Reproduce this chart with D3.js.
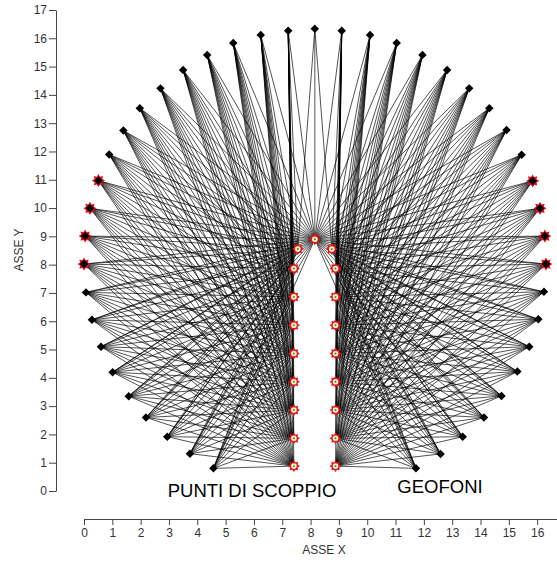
<!DOCTYPE html>
<html>
<head>
<meta charset="utf-8">
<script src="https://cdn.jsdelivr.net/npm/d3@7"></script>
<style>
  body { margin: 0; background: #fff; }
  svg { display: block; font-family: "Liberation Sans", Arial, sans-serif; }
</style>
</head>
<body>
<div id="wrapper"></div>
<script>
// geofoni sul perimetro, lato sinistro (dal basso verso l'alto)
const geofoniSinistra = [
  [4.57, 0.8], [3.74, 1.32], [2.94, 1.92], [2.19, 2.6], [1.58, 3.35],
  [1.01, 4.2], [0.6, 5.1], [0.28, 6.05], [0.07, 7.02], [0.0, 8.02],
  [0.04, 9.01], [0.21, 9.99], [0.51, 10.97], [0.89, 11.89], [1.39, 12.74],
  [1.97, 13.53], [2.7, 14.23], [3.5, 14.88], [4.35, 15.41], [5.27, 15.83],
  [6.24, 16.12], [7.21, 16.27]
];
// geofono in cima
const geofonoCima = [[8.15, 16.34]];
// geofoni lato destro (dall'alto verso il basso)
const geofoniDestra = [
  [9.1, 16.27], [10.1, 16.12], [11.04, 15.83], [11.95, 15.41], [12.82, 14.88],
  [13.6, 14.23], [14.31, 13.53], [14.92, 12.76], [15.45, 11.88], [15.84, 10.96],
  [16.1, 9.99], [16.27, 9.01], [16.31, 8.02], [16.24, 7.04], [16.04, 6.07],
  [15.72, 5.1], [15.3, 4.22], [14.74, 3.36], [14.12, 2.6], [13.37, 1.92],
  [12.59, 1.31], [11.72, 0.8]
];
// geofoni marcati anche come punti di scoppio
const scoppiPerimetro = [
  [0.0, 8.02], [0.04, 9.01], [0.21, 9.99], [0.51, 10.97],
  [15.84, 10.96], [16.1, 9.99], [16.27, 9.01], [16.31, 8.02]
];
// punti di scoppio nel cunicolo
const scoppiSinistra = [
  [7.41, 0.88], [7.41, 1.86], [7.41, 2.86], [7.41, 3.86], [7.41, 4.86],
  [7.41, 5.86], [7.41, 6.86], [7.41, 7.86], [7.55, 8.55]
];
const scoppiDestra = [
  [8.88, 0.88], [8.88, 1.86], [8.88, 2.86], [8.88, 3.86], [8.88, 4.86],
  [8.88, 5.86], [8.88, 6.86], [8.88, 7.86], [8.75, 8.55]
];
const scoppioCentro = [[8.15, 8.9]];

const xTicks = d3.range(0, 17);
const yTicks = d3.range(0, 18);

const width = 557, height = 563;

const xScale = d3.scaleLinear().domain([0, 16.7]).range([84, 557]);
const yScale = d3.scaleLinear().domain([0, 17]).range([491, 10]);

const svg = d3.select("#wrapper").append("svg")
  .attr("width", width)
  .attr("height", height);

// raggi: ogni geofono e' collegato agli scoppi del proprio lato
const raggi = [];
geofoniSinistra.forEach(g => scoppiSinistra.concat(scoppioCentro).forEach(s => raggi.push([g, s])));
geofoniDestra.forEach(g => scoppiDestra.concat(scoppioCentro).forEach(s => raggi.push([g, s])));
geofonoCima.forEach(g => [scoppiSinistra[8], scoppioCentro[0], scoppiDestra[8]].forEach(s => raggi.push([g, s])));

svg.append("g")
  .selectAll("line")
  .data(raggi)
  .join("line")
  .attr("x1", d => xScale(d[0][0]))
  .attr("y1", d => yScale(d[0][1]))
  .attr("x2", d => xScale(d[1][0]))
  .attr("y2", d => yScale(d[1][1]))
  .attr("stroke", "#000")
  .attr("stroke-opacity", 0.85)
  .attr("stroke-width", 0.8);

// forma a stella (8 punte)
function stella(rOut, rIn, n) {
  const pts = [];
  for (let i = 0; i < n * 2; i++) {
    const r = i % 2 === 0 ? rOut : rIn;
    const a = Math.PI * i / n - Math.PI / 2;
    pts.push([r * Math.cos(a), r * Math.sin(a)]);
  }
  return "M" + pts.map(p => p.join(",")).join("L") + "Z";
}

// stelle rosse sotto i geofoni del perimetro
svg.append("g")
  .selectAll("path")
  .data(scoppiPerimetro)
  .join("path")
  .attr("transform", d => `translate(${xScale(d[0])},${yScale(d[1])})`)
  .attr("d", stella(6.5, 4.2, 8))
  .attr("fill", "#e0101a");

// geofoni (rombi neri)
const geofoni = geofoniSinistra.concat(geofonoCima, geofoniDestra);
svg.append("g")
  .selectAll("rect")
  .data(geofoni)
  .join("rect")
  .attr("x", -3)
  .attr("y", -3)
  .attr("width", 6)
  .attr("height", 6)
  .attr("transform", d => `translate(${xScale(d[0])},${yScale(d[1])}) rotate(45)`)
  .attr("fill", "#000");

// punti di scoppio nel cunicolo
const scoppi = scoppiSinistra.concat(scoppiDestra, scoppioCentro);
const gScoppi = svg.append("g")
  .selectAll("g")
  .data(scoppi)
  .join("g")
  .attr("transform", d => `translate(${xScale(d[0])},${yScale(d[1])})`);
gScoppi.append("path")
  .attr("d", stella(6, 4, 8))
  .attr("fill", "#e3141c");
gScoppi.append("circle")
  .attr("r", 2.8)
  .attr("fill", "#fbf6c8");
gScoppi.append("circle")
  .attr("r", 1)
  .attr("fill", "#6b6b3a");

// assi
svg.append("g")
  .attr("transform", "translate(56,0)")
  .call(d3.axisLeft(yScale).tickValues(yTicks).tickSize(7).tickPadding(2).tickSizeOuter(0));

svg.append("g")
  .attr("transform", "translate(0,519)")
  .call(d3.axisBottom(xScale).tickValues(xTicks).tickSize(6).tickPadding(3).tickSizeOuter(0));

svg.selectAll(".domain, .tick line").attr("stroke", "#444");
svg.selectAll(".tick text")
  .attr("fill", "#333")
  .style("font-size", "12px")
  .style("font-family", "'Liberation Sans', Arial, sans-serif");

svg.append("text")
  .attr("x", 324)
  .attr("y", 554)
  .attr("text-anchor", "middle")
  .attr("fill", "#333")
  .style("font-size", "12px")
  .text("ASSE X");

svg.append("text")
  .attr("transform", "translate(23,250) rotate(-90)")
  .attr("text-anchor", "middle")
  .attr("fill", "#333")
  .style("font-size", "12px")
  .text("ASSE Y");

svg.append("text")
  .attr("x", 252)
  .attr("y", 497)
  .attr("text-anchor", "middle")
  .attr("fill", "#000")
  .style("font-size", "18.5px")
  .text("PUNTI DI SCOPPIO");

svg.append("text")
  .attr("x", 440)
  .attr("y", 493)
  .attr("text-anchor", "middle")
  .attr("fill", "#000")
  .style("font-size", "18.5px")
  .text("GEOFONI");
</script>
</body>
</html>
